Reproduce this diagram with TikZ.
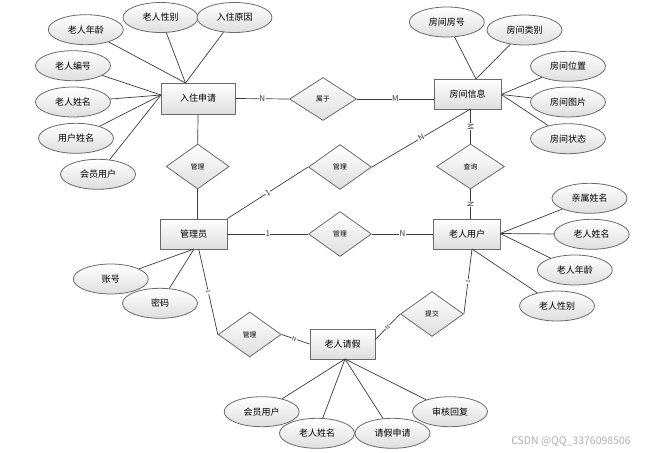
\documentclass[tikz,border=0pt]{standalone}
\usepackage{fontspec}
\setmainfont{Noto Sans CJK SC}
\usetikzlibrary{shapes.geometric}
\definecolor{bd}{HTML}{6A6A6A}
\definecolor{ln}{HTML}{3A3A3A}
\definecolor{fillbot}{HTML}{DEDEDE}
\definecolor{wm}{HTML}{AFAFAF}
\begin{document}
\begin{tikzpicture}[x=1pt,y=-1pt,
  ent/.style={rectangle, draw=bd, line width=0.9pt, top color=white, bottom color=fillbot,
    minimum width=67pt, minimum height=30pt, inner sep=0pt, font=\fontsize{9}{10}\selectfont},
  attr/.style={ellipse, draw=bd, line width=0.8pt, top color=white, bottom color=fillbot,
    minimum width=75pt, minimum height=30pt, inner sep=0pt, font=\fontsize{9}{10}\selectfont},
  rel/.style={diamond, draw=bd, line width=0.8pt, top color=white, bottom color=fillbot,
    minimum width=63pt, minimum height=45pt, inner sep=0pt, font=\fontsize{6.8}{7}\selectfont},
  conn/.style={draw=ln, line width=0.7pt},
  lbl/.style={fill=white, inner sep=0.5pt, text=ln, font=\fontsize{8}{8}\selectfont, sloped}]
\useasboundingbox (0,0) rectangle (649,453);

% entities
\node[ent, minimum width=74pt, minimum height=31pt] (rz) at (198,98.5) {入住申请};
\node[ent] (fx) at (467.7,94) {房间信息};
\node[ent] (gly) at (193.5,234) {管理员};
\node[ent] (lr) at (467,234) {老人用户};
\node[ent, minimum width=65pt] (qj) at (342.5,344) {老人请假};

% relationships
\node[rel, minimum width=67pt, minimum height=43pt] (sy) at (323,99) {属于};
\node[rel] (g1) at (197.7,166.5) {管理};
\node[rel] (g2) at (340,167) {管理};
\node[rel, minimum width=68pt] (cx) at (470.5,166.5) {查询};
\node[rel] (g3) at (340,234) {管理};
\node[rel] (g4) at (249.7,334.5) {管理};
\node[rel] (tj) at (432,314) {提交};

% attributes
\node[attr] (a1) at (85.8,29.7) {老人年龄};
\node[attr] (a2) at (160.5,17.5) {老人性别};
\node[attr] (a3) at (234.5,17.5) {入住原因};
\node[attr] (a4) at (73,65.7) {老人编号};
\node[attr] (a5) at (73,102) {老人姓名};
\node[attr] (a6) at (76,138.3) {用户姓名};
\node[attr] (a7) at (98,174.3) {会员用户};
\node[attr] (b1) at (446.8,22) {房间房号};
\node[attr] (b2) at (524.5,30) {房间类别};
\node[attr] (b3) at (568,66.3) {房间位置};
\node[attr] (b4) at (568,102) {房间图片};
\node[attr] (b5) at (568,138.7) {房间状态};
\node[attr] (c1) at (589.5,198.3) {亲属姓名};
\node[attr] (c2) at (591.7,234.3) {老人姓名};
\node[attr] (c3) at (574.8,270) {老人年龄};
\node[attr] (c4) at (557,306) {老人性别};
\node[attr] (d1) at (110.8,279) {账号};
\node[attr] (d2) at (160,303.3) {密码};
\node[attr] (e1) at (261.7,411.7) {会员用户};
\node[attr] (e2) at (317,433.3) {老人姓名};
\node[attr] (e3) at (392.5,433.3) {请假申请};
\node[attr] (e4) at (450,411.7) {审核回复};

% convergence points on entity borders
\coordinate (rzT) at (185.5,83);
\coordinate (rzL) at (161,95);
\coordinate (fxT) at (476,79);
\coordinate (fxR) at (501.2,94.5);
\coordinate (fxB) at (470.5,109);
\coordinate (lrR) at (500.2,233.5);
\coordinate (lrB) at (472,249);
\coordinate (glyB) at (194,249);
\coordinate (glyB2) at (198.7,249);
\coordinate (qjB) at (345,359);
\coordinate (qjR) at (375,340);

% attribute lines
\foreach \a in {a1,a2,a3} \draw[conn] (rzT) -- (\a);
\foreach \a in {a4,a5,a6,a7} \draw[conn] (rzL) -- (\a);
\foreach \a in {b1,b2} \draw[conn] (fxT) -- (\a);
\foreach \a in {b3,b4,b5} \draw[conn] (fxR) -- (\a);
\foreach \a in {c1,c2,c3} \draw[conn] (lrR) -- (\a);
\draw[conn] (lrB) -- (c4);
\foreach \a in {d1,d2} \draw[conn] (glyB) -- (\a);
\foreach \a in {e1,e2,e3,e4} \draw[conn] (qjB) -- (\a);

% relationship lines
\draw[conn] (rz.east) -- node[lbl]{N} (sy.west);
\draw[conn] (sy.east) -- node[lbl]{M} (sy.east -| fx.west);
\draw[conn] (rz.south) -- (g1.north);
\draw[conn] (g1.south) -- (g1.south |- gly.north);
\draw[conn] (gly.north east) -- node[lbl]{1} (g2.west);
\draw[conn] (g2.east) -- node[lbl]{N} (fxB);
\draw[conn] (fxB) -- node[lbl]{M} (cx.north);
\draw[conn] (cx.south) -- node[lbl]{N} (cx.south |- lr.north);
\draw[conn] (gly.east) -- node[lbl]{1} (g3.west);
\draw[conn] (g3.east) -- node[lbl]{N} (lr.west);
\draw[conn] (glyB2) -- node[lbl, font=\fontsize{6}{6}\selectfont]{1} (g4.west);
\draw[conn] (g4.east) -- node[lbl, pos=0.45, font=\fontsize{6}{6}\selectfont]{N} (qj.west);
\draw[conn] (qjR) -- node[lbl, font=\fontsize{6}{6}\selectfont]{N} (tj.west);
\draw[conn] (tj.east) -- node[lbl, font=\fontsize{6}{6}\selectfont]{1} (lrB);

% watermark
\node[text=wm, font=\fontsize{10.5}{11}\selectfont, inner sep=0pt] (wmk) at (571,442) {CSDN @QQ\_3376098506};
\end{tikzpicture}
\end{document}
